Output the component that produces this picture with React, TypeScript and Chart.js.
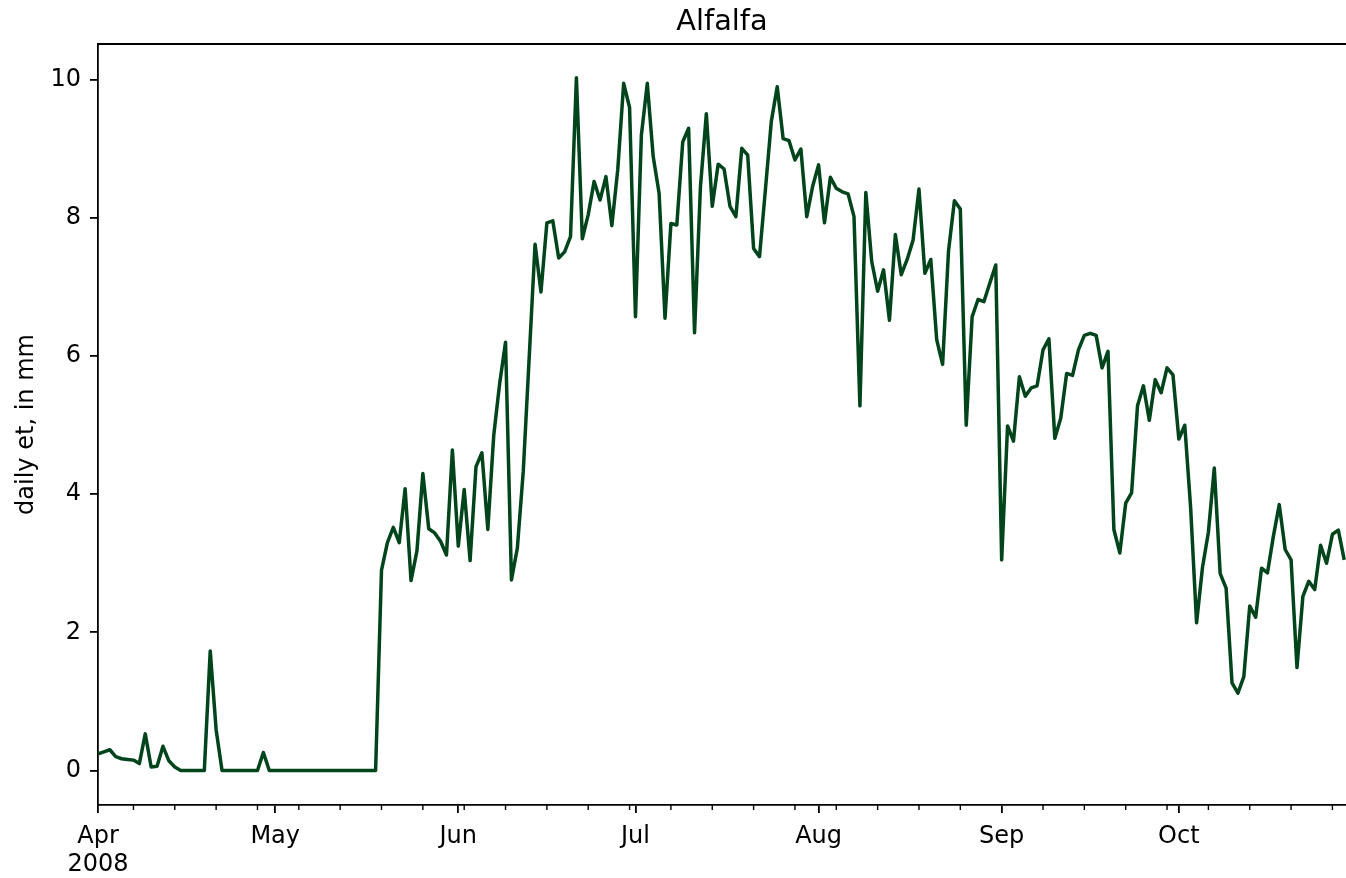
import { useEffect, useRef } from 'react';
import { Chart, registerables } from 'chart.js';

Chart.register(...registerables);

// Daily evapotranspiration (mm) for alfalfa, 2008 growing season, one array per month.
const etApr = [
  0.24, 0.27, 0.3, 0.2, 0.17, 0.16, 0.15, 0.1, 0.53, 0.05,
  0.06, 0.35, 0.14, 0.05, 0, 0, 0, 0, 0, 1.73,
  0.59, 0, 0, 0, 0, 0, 0, 0, 0.26, 0,
];
const etMay = [
  0, 0, 0, 0, 0, 0, 0, 0, 0, 0,
  0, 0, 0, 0, 0, 0, 0, 0, 2.9, 3.3,
  3.52, 3.3, 4.08, 2.75, 3.18, 4.3, 3.5, 3.44, 3.32, 3.12,
  4.64,
];
const etJun = [
  3.25, 4.07, 3.04, 4.4, 4.6, 3.49, 4.85, 5.6, 6.2, 2.76,
  3.22, 4.33, 5.97, 7.62, 6.93, 7.93, 7.96, 7.42, 7.51, 7.73,
  10.03, 7.7, 8.05, 8.53, 8.26, 8.6, 7.89, 8.7, 9.95, 9.6,
];
const etJul = [
  6.57, 9.2, 9.95, 8.89, 8.36, 6.55, 7.92, 7.9, 9.1, 9.3,
  6.34, 8.45, 9.51, 8.17, 8.78, 8.71, 8.17, 8.02, 9.01, 8.91,
  7.56, 7.44, 8.41, 9.4, 9.9, 9.15, 9.12, 8.84, 9.0, 8.02,
  8.46,
];
const etAug = [
  8.77, 7.93, 8.59, 8.43, 8.38, 8.35, 8.02, 5.28, 8.37, 7.37,
  6.94, 7.25, 6.52, 7.76, 7.18, 7.4, 7.68, 8.42, 7.2, 7.4,
  6.24, 5.88, 7.52, 8.25, 8.13, 5.0, 6.57, 6.82, 6.79, 7.06,
  7.32,
];
const etSep = [
  3.05, 4.99, 4.77, 5.7, 5.42, 5.54, 5.57, 6.09, 6.25, 4.81,
  5.1, 5.75, 5.72, 6.09, 6.3, 6.33, 6.3, 5.83, 6.07, 3.49,
  3.15, 3.87, 4.02, 5.28, 5.57, 5.07, 5.66, 5.47, 5.83, 5.73,
];
const etOct = [
  4.8, 5.0, 3.8, 2.14, 2.94, 3.45, 4.38, 2.85, 2.64, 1.27,
  1.12, 1.36, 2.38, 2.22, 2.93, 2.86, 3.39, 3.85, 3.2, 3.05,
  1.49, 2.52, 2.74, 2.62, 3.26, 3.0, 3.42, 3.48, 3.05,
];

const monthNames = ['Apr', 'May', 'Jun', 'Jul', 'Aug', 'Sep', 'Oct'];
const monthLengths = [30, 31, 30, 31, 31, 30, 31];
const yearLabel = '2008';
const yTickValues = [0, 2, 4, 6, 8, 10];
const chartTitle = 'Alfalfa';
const yAxisTitle = 'daily et, in mm';

const dailyEt = [...etApr, ...etMay, ...etJun, ...etJul, ...etAug, ...etSep, ...etOct];

// Day offsets (from 1 April) of the first day of each month.
const monthStarts = monthLengths.reduce<number[]>((acc, len, i) => {
  acc.push(i === 0 ? 0 : acc[i - 1] + monthLengths[i - 1]);
  return acc;
}, []);

const lastDay = dailyEt.length - 1;
const xMax = lastDay + 0.3;

// Weekly minor ticks fall on Mondays.
const mondays: number[] = [];
for (let d = 0; d <= xMax; d++) {
  if (new Date(2008, 3, 1 + d).getDay() === 1) mondays.push(d);
}

const LINE_COLOR = '#00441b';
const FONT = "'DejaVu Sans', sans-serif";

const framePlugin = {
  id: 'frameAndMinorTicks',
  afterDraw(chart: any) {
    const { ctx, chartArea, scales } = chart;
    ctx.save();
    ctx.strokeStyle = '#000';
    // top spine
    ctx.lineWidth = 1.8;
    ctx.beginPath();
    ctx.moveTo(chartArea.left - 0.9, chartArea.top);
    ctx.lineTo(chartArea.right, chartArea.top);
    ctx.stroke();
    // minor ticks
    ctx.lineWidth = 1.4;
    for (const d of mondays) {
      if (monthStarts.includes(d)) continue;
      const x = scales.x.getPixelForValue(d);
      ctx.beginPath();
      ctx.moveTo(x, chartArea.bottom);
      ctx.lineTo(x, chartArea.bottom + 5);
      ctx.stroke();
    }
    // title
    ctx.fillStyle = '#000';
    ctx.font = `28.8px ${FONT}`;
    ctx.textAlign = 'center';
    ctx.textBaseline = 'alphabetic';
    ctx.fillText(chartTitle, (chartArea.left + chartArea.right) / 2, 29.5);
    ctx.restore();
  },
};

export default function App() {
  const canvasRef = useRef<HTMLCanvasElement | null>(null);

  useEffect(() => {
    if (!canvasRef.current) return;
    const chart = new Chart(canvasRef.current, {
      type: 'line',
      data: {
        datasets: [
          {
            label: chartTitle,
            data: dailyEt.map((v, i) => ({ x: i, y: v })),
            borderColor: LINE_COLOR,
            borderWidth: 3.5,
            borderJoinStyle: 'round',
            borderCapStyle: 'butt',
            pointRadius: 0,
            tension: 0,
            fill: false,
          },
        ],
      },
      options: {
        animation: false,
        responsive: false,
        devicePixelRatio: 1,
        layout: { padding: { top: 44, left: 0, right: 0, bottom: 0 } },
        plugins: {
          legend: { display: false },
          title: { display: false },
          tooltip: { enabled: false },
        },
        scales: {
          x: {
            type: 'linear',
            bounds: 'data',
            min: 0,
            max: xMax,
            afterBuildTicks: (s: any) => {
              s.ticks = monthStarts.map((v) => ({ value: v }));
            },
            afterFit: (s: any) => {
              s.height = 73;
            },
            grid: {
              drawOnChartArea: false,
              drawTicks: true,
              tickLength: 8,
              color: '#000',
              lineWidth: 1.8,
            },
            border: { display: true, color: '#000', width: 1.8 },
            ticks: {
              autoSkip: false,
              maxRotation: 0,
              padding: 9,
              color: '#000',
              font: { family: FONT, size: 24, lineHeight: 1.2 },
              callback: (value: any) => {
                const i = monthStarts.indexOf(Number(value));
                if (i < 0) return '';
                return i === 0 ? [monthNames[0], yearLabel] : monthNames[i];
              },
            },
          },
          y: {
            type: 'linear',
            bounds: 'data',
            min: -0.5,
            max: 10.52,
            afterBuildTicks: (s: any) => {
              s.ticks = yTickValues.map((v) => ({ value: v }));
            },
            afterFit: (s: any) => {
              s.width = 98;
            },
            grid: {
              drawOnChartArea: false,
              drawTicks: true,
              tickLength: 8,
              color: '#000',
              lineWidth: 1.8,
            },
            border: { display: true, color: '#000', width: 1.8 },
            ticks: {
              padding: 9,
              color: '#000',
              font: { family: FONT, size: 24 },
              callback: (value: any) => String(value),
            },
            title: {
              display: true,
              text: yAxisTitle,
              color: '#000',
              font: { family: FONT, size: 24, lineHeight: 1.2 },
              padding: { top: 12, bottom: 0 },
            },
          },
        },
      },
      plugins: [framePlugin],
    });
    return () => chart.destroy();
  }, []);

  return (
    <div style={{ position: 'fixed', left: 0, top: 0, width: 1346, height: 878, background: '#fff' }}>
      <canvas ref={canvasRef} width={1346} height={878} style={{ width: 1346, height: 878, display: 'block' }} />
    </div>
  );
}
